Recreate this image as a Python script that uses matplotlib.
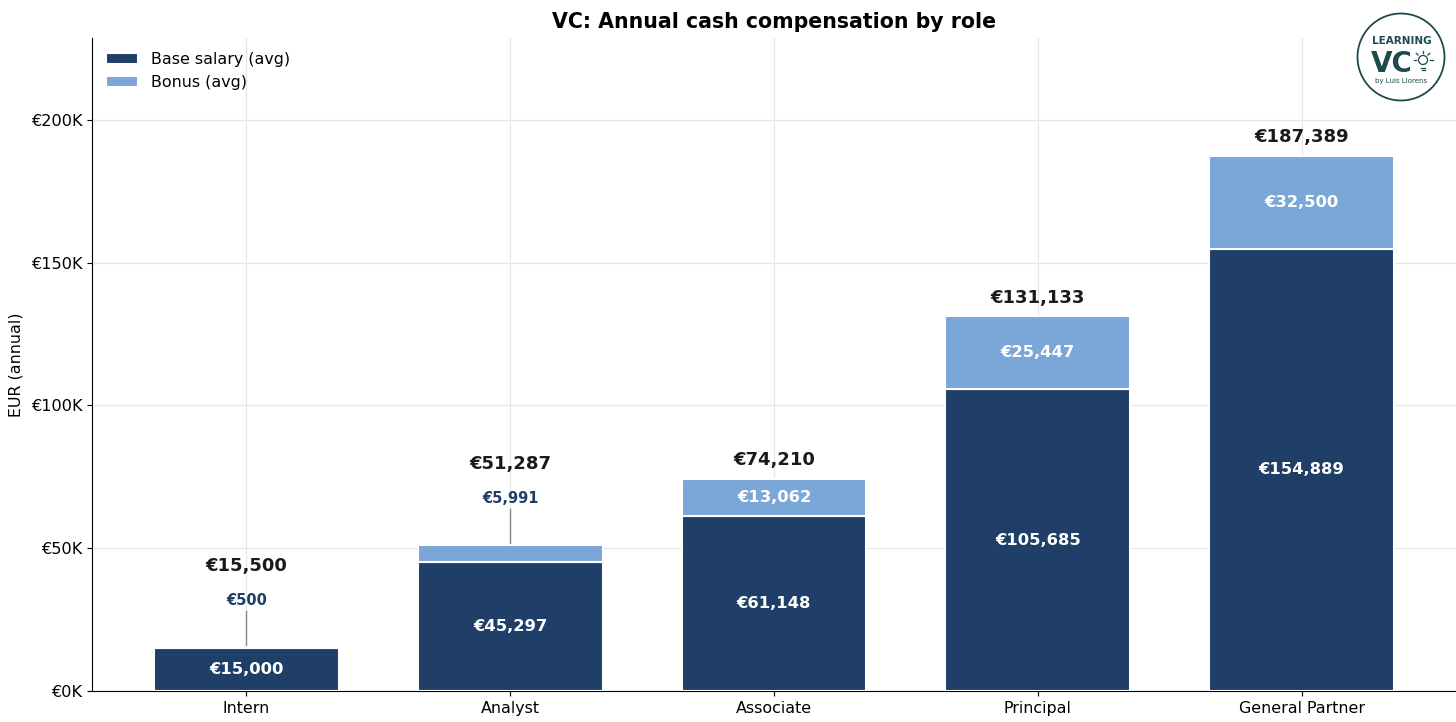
import matplotlib
matplotlib.use("Agg")
import matplotlib.pyplot as plt
from matplotlib.patches import Circle
import numpy as np

roles = ["Intern", "Analyst", "Associate", "Principal", "General Partner"]
base_salary = [15000, 45297, 61148, 105685, 154889]
bonus = [500, 5991, 13062, 25447, 32500]
totals = [15500, 51287, 74210, 131133, 187389]
yticks = [0, 50000, 100000, 150000, 200000]
ytick_labels = ["€0K", "€50K", "€100K", "€150K", "€200K"]

BASE_C = "#1f3e68"
BONUS_C = "#7ba6d8"

fig = plt.figure(figsize=(14.56, 7.22), dpi=100)
ax = fig.add_axes([92/1456, 31/722, 1364/1456, (691-38)/722])

x = np.arange(len(roles))
ax.bar(x, base_salary, width=0.7, color=BASE_C, edgecolor="white", linewidth=1.5,
       label="Base salary (avg)", zorder=3)
ax.bar(x, bonus, width=0.7, bottom=base_salary, color=BONUS_C, edgecolor="white",
       linewidth=1.5, label="Bonus (avg)", zorder=3)

ymax = max(totals) * 1.22
for i in x:
    b, s, t = base_salary[i], bonus[i], totals[i]
    ax.text(i, b / 2, f"€{b:,}", ha="center", va="center", color="white",
            fontsize=11.8, fontweight="bold", zorder=4)
    if s >= 0.05 * ymax:
        ax.text(i, b + s / 2, f"€{s:,}", ha="center", va="center", color="white",
                fontsize=11.8, fontweight="bold", zorder=4)
        ax.text(i, t + 0.029 * ymax, f"€{t:,}", ha="center", va="center",
                color="#1a1a1a", fontsize=13, fontweight="bold", zorder=4)
    else:
        ax.plot([i, i], [t + 0.002 * ymax, t + 0.054 * ymax], color="#888888",
                linewidth=1.0, zorder=4)
        ax.text(i, t + 0.071 * ymax, f"€{s:,}", ha="center", va="center",
                color=BASE_C, fontsize=10.5, fontweight="bold", zorder=4)
        ax.text(i, t + 0.123 * ymax, f"€{t:,}", ha="center", va="center",
                color="#1a1a1a", fontsize=13, fontweight="bold", zorder=4)

ax.set_xlim(-0.585, len(roles) - 1 + 0.585)
ax.set_ylim(0, ymax)
ax.set_xticks(x)
ax.set_xticklabels(roles, fontsize=11.4)
ax.set_yticks(yticks)
ax.set_yticklabels(ytick_labels, fontsize=11.6)
ax.set_ylabel("EUR (annual)", fontsize=11.4, labelpad=5)
ax.grid(True, color="#e6e6e6", linewidth=0.9, zorder=0)
ax.set_axisbelow(True)
ax.spines["top"].set_visible(False)
ax.spines["right"].set_visible(False)
ax.legend(loc="upper left", frameon=False, fontsize=11.4)
fig.text(774/1456, 1 - 22/722, "VC: Annual cash compensation by role",
         ha="center", va="center", fontsize=14.8, fontweight="bold")

# Logo overlay
lax = fig.add_axes([0, 0, 1, 1], zorder=10)
lax.set_xlim(0, 1456)
lax.set_ylim(722, 0)
lax.axis("off")
LOGO = "#1d4a4e"
lax.add_patch(Circle((1401, 57), 43.5, facecolor="white", edgecolor=LOGO, linewidth=1.3))
lax.text(1402, 41, "LEARNING", ha="center", va="center", fontsize=7.5,
         color=LOGO, fontweight="semibold")
lax.text(1392, 64, "VC", ha="center", va="center", fontsize=20, color=LOGO,
         fontweight="bold")
lax.add_patch(Circle((1423, 60), 4.5, facecolor="none", edgecolor=LOGO, linewidth=0.9))
lax.plot([1421, 1425], [67.5, 67.5], color=LOGO, linewidth=0.9)
lax.plot([1421.5, 1424.5], [69.5, 69.5], color=LOGO, linewidth=0.9)
for ang in [0, 45, 90, 135, 180]:
    a = np.deg2rad(ang)
    lax.plot([1423 + 7 * np.cos(a), 1423 + 9.5 * np.cos(a)],
             [60 - 7 * np.sin(a), 60 - 9.5 * np.sin(a)], color=LOGO, linewidth=0.9)
lax.text(1401, 81, "by Luis Llorens", ha="center", va="center", fontsize=5, color=LOGO)

fig.savefig("out.png", dpi=100)
